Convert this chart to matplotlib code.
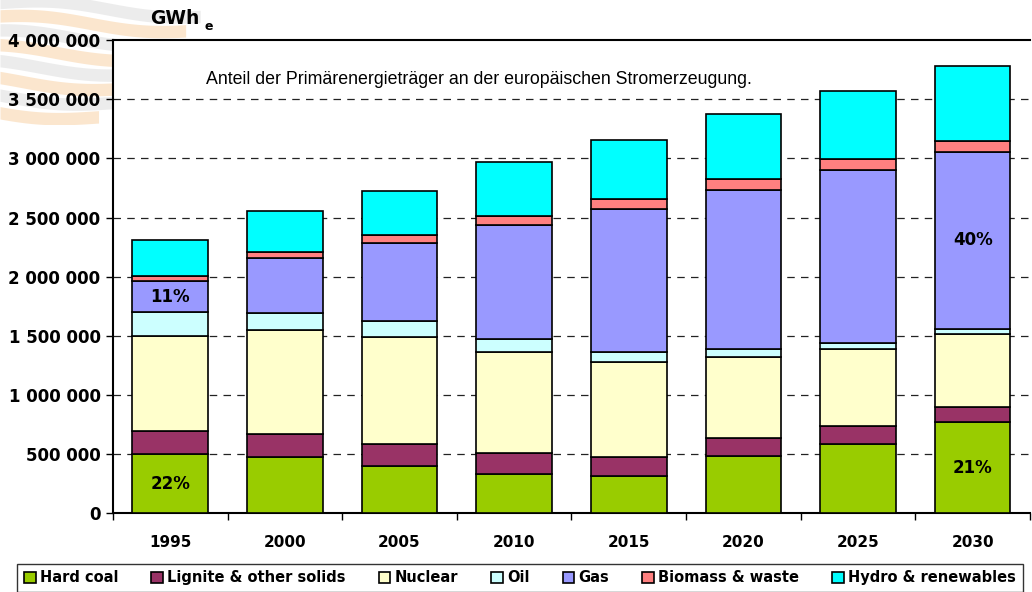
import numpy as np
import matplotlib
matplotlib.use('Agg')
import matplotlib.pyplot as plt

plt.rcParams['font.family'] = ['DejaVu Sans']

# data (thousand GWh_e per source)
years = ['1995', '2000', '2005', '2010', '2015', '2020', '2025', '2030']
hard_coal = [497, 476, 398, 327, 316, 485, 584, 770]
lignite = [197, 192, 183, 183, 155, 150, 150, 124]
nuclear = [806, 878, 911, 852, 809, 687, 656, 620]
oil = [200, 146, 135, 107, 82, 63, 46, 45]
gas = [263, 468, 660, 968, 1210, 1350, 1468, 1495]
biomass = [42, 51, 65, 76, 84, 88, 93, 93]
hydro = [302, 344, 375, 457, 497, 550, 576, 632]

labels = ['Hard coal', 'Lignite & other solids', 'Nuclear', 'Oil', 'Gas',
          'Biomass & waste', 'Hydro & renewables']
colors = ['#99CC00', '#993366', '#FFFFCC', '#CCFFFF', '#9999FF', '#FF8080', '#00FFFF']
series = [hard_coal, lignite, nuclear, oil, gas, biomass, hydro]

fig = plt.figure(figsize=(10.32, 5.92), dpi=100)

# faint logo watermark in the top left corner
wm = fig.add_axes([0, 0.79, 0.2, 0.21], zorder=-5)
wx = np.linspace(0, 1, 200)
for i in range(8):
    base = 1.03 - i * 0.125
    wave = base + 0.035 * np.sin(wx * 6 + i * 0.5) - 0.1 * wx
    col = '#f9d6ae' if i % 2 == 1 else '#e0e0e0'
    xmax = 0.97 - i * 0.07
    m = wx <= xmax
    wm.fill_between(wx[m], wave[m] - 0.1, wave[m], color=col, alpha=0.6, lw=0)
wm.set_xlim(0, 1)
wm.set_ylim(0, 1)
wm.axis('off')

ax = fig.add_axes([0.1095, 0.1334, 0.8885, 0.7986])

x = np.arange(len(years))
bottom = np.zeros(len(years))
handles = []
for vals, lab, col in zip(series, labels, colors):
    v = np.array(vals) * 1000
    b = ax.bar(x, v, 0.66, bottom=bottom, color=col, edgecolor='black',
               linewidth=1.2, label=lab, zorder=3)
    handles.append(b)
    bottom += v

ax.set_xlim(-0.5, len(years) - 0.5)
ax.set_ylim(0, 4000000)
yt = np.arange(0, 4000001, 500000)
ax.set_yticks(yt)
ax.set_yticklabels(['{:,}'.format(int(t)).replace(',', ' ') for t in yt],
                   fontsize=12, fontweight='bold')
ax.set_xticks(x)
ax.set_xticklabels(years, fontsize=11, fontweight='bold')
ax.set_xticks(np.arange(-0.5, len(years)), minor=True)
ax.tick_params(axis='x', which='major', length=0, pad=16)
ax.tick_params(axis='x', which='minor', length=5, direction='out', width=1)
ax.tick_params(axis='y', length=5, direction='out', width=1, pad=4)

for y in yt[1:-1]:
    ax.axhline(y, color='#222222', linestyle=(0, (6, 5)), linewidth=0.9, zorder=1)

for s in ['left', 'bottom', 'top']:
    ax.spines[s].set_linewidth(1.5)
ax.spines['right'].set_visible(False)

# percentage labels
ax.text(0, hard_coal[0] * 1000 / 2, '22%', ha='center', va='center',
        fontsize=12, fontweight='bold', zorder=5)
g0 = (hard_coal[0] + lignite[0] + nuclear[0] + oil[0]) * 1000
ax.text(0, g0 + gas[0] * 1000 / 2, '11%', ha='center', va='center',
        fontsize=12, fontweight='bold', zorder=5)
ax.text(7, hard_coal[7] * 1000 / 2, '21%', ha='center', va='center',
        fontsize=12, fontweight='bold', zorder=5)
g7 = (hard_coal[7] + lignite[7] + nuclear[7] + oil[7]) * 1000
ax.text(7, g7 + gas[7] * 1000 / 2, '40%', ha='center', va='center',
        fontsize=12, fontweight='bold', zorder=5)

ax.text(0.399, 0.918, 'Anteil der Primärenergieträger an der europäischen Stromerzeugung.',
        transform=ax.transAxes, ha='center', va='center', fontsize=12.8,
        family='Liberation Sans')

fig.text(0.145, 0.968, 'GWh', fontsize=13.5, fontweight='bold', va='center')
fig.text(0.198, 0.955, 'e', fontsize=9, fontweight='bold', va='center')

leg = fig.legend(handles, labels, loc='lower left', ncol=7, mode='expand',
                 bbox_to_anchor=(0.0097, -0.012, 0.9885, 0.05),
                 frameon=True, fancybox=False, edgecolor='black',
                 prop={'weight': 'bold', 'size': 10.5},
                 handlelength=0.8, handleheight=0.8, handletextpad=0.3,
                 borderpad=0.45, columnspacing=1.0)
leg.get_frame().set_linewidth(1.0)

fig.savefig('out.png', dpi=100)
